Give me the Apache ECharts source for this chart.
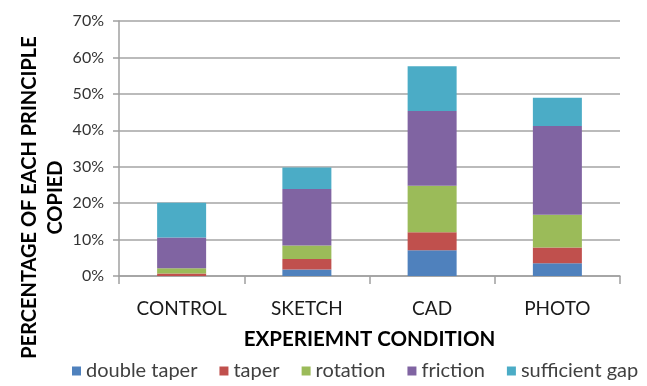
<!DOCTYPE html>
<html>
<head>
<meta charset="utf-8">
<script src="https://cdn.jsdelivr.net/npm/echarts@6/dist/echarts.min.js"></script>
<style>
  html, body { margin: 0; padding: 0; background: #fff; }
  #chart { width: 647px; height: 386px; }
</style>
</head>
<body>
<div id="chart"></div>
<script>
// experiment conditions along the x axis
const conditions = ['CONTROL', 'SKETCH', 'CAD', 'PHOTO']

// percentage of each principle copied (stacked, %)
const doubleTaper = [0.0, 1.8, 7.1, 3.5]
const taper = [0.7, 2.9, 4.9, 4.3]
const rotation = [1.4, 3.7, 12.8, 9.0]
const friction = [8.5, 15.5, 20.5, 24.4]
const sufficientGap = [9.5, 5.9, 12.3, 7.7]

const seriesNames = ['double taper', 'taper', 'rotation', 'friction', 'sufficient gap']
const seriesValues = [doubleTaper, taper, rotation, friction, sufficientGap]
const seriesColors = ['#4F81BD', '#C0504D', '#9BBB59', '#8064A2', '#4BACC6']

const font = 'Lato'
const chart = echarts.init(document.getElementById('chart'))

chart.setOption({
  backgroundColor: '#fff',
  animation: false,
  grid: { left: 119, right: 27, top: 21, bottom: 110, containLabel: false, outerBoundsMode: 'none' },
  legend: {
    bottom: 0,
    left: 67,
    itemWidth: 9,
    itemHeight: 9,
    itemGap: 22,
    icon: 'rect',
    textStyle: { fontFamily: font, fontSize: 20, color: '#404040' },
    data: seriesNames
  },
  xAxis: {
    type: 'category',
    data: conditions,
    name: 'EXPERIEMNT CONDITION',
    nameLocation: 'middle',
    nameGap: 53,
    nameMoveOverlap: false,
    nameTextStyle: { fontFamily: font, fontSize: 20.5, fontWeight: 'bold', color: '#000' },
    axisLine: { lineStyle: { color: '#a0a0a0', width: 1.5 } },
    axisTick: { show: true, length: 8, lineStyle: { color: '#a0a0a0', width: 1.5 } },
    axisLabel: { fontFamily: font, fontSize: 19, color: '#1a1a1a', margin: 23 }
  },
  yAxis: {
    type: 'value',
    min: 0,
    max: 70,
    interval: 10,
    name: 'PERCENTAGE OF EACH PRINCIPLE\nCOPIED',
    nameLocation: 'middle',
    nameGap: 50,
    nameMoveOverlap: false,
    nameTextStyle: {
      fontFamily: font, fontSize: 20, fontWeight: 'bold', color: '#000', lineHeight: 26,
      padding: [0, 98, 0, 0]
    },
    axisLine: { show: true, lineStyle: { color: '#a0a0a0', width: 1.5 } },
    axisTick: { show: true, length: 6, lineStyle: { color: '#a0a0a0', width: 1.5 } },
    axisLabel: { fontFamily: font, fontSize: 16, color: '#333', margin: 15, formatter: '{value}%' },
    splitLine: { lineStyle: { color: '#a5a5a5', width: 1.5 } }
  },
  series: seriesNames.map((name, i) => ({
    name,
    type: 'bar',
    stack: 'total',
    barWidth: 49,
    data: seriesValues[i],
    itemStyle: { color: seriesColors[i] }
  }))
})
</script>
</body>
</html>
